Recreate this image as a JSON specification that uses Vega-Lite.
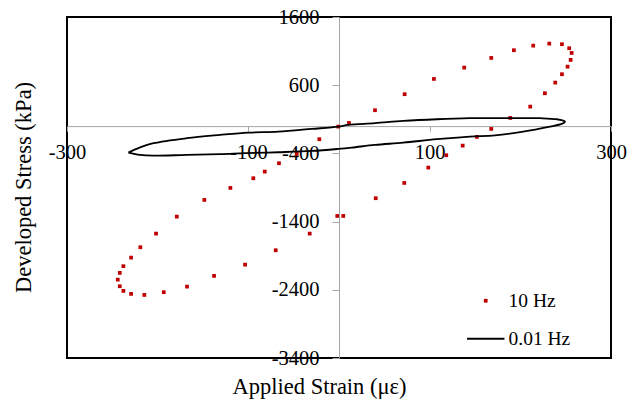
{
  "$schema": "https://vega.github.io/schema/vega-lite/v6.json",
  "width": 544,
  "height": 341,
  "autosize": {"type": "none"},
  "padding": {"left": 67, "top": 17, "right": 24, "bottom": 41},
  "background": "white",
  "config": {
    "font": "Liberation Serif",
    "view": {"stroke": "black", "strokeWidth": 2},
    "axis": {"grid": false, "labelFont": "Liberation Serif", "titleFont": "Liberation Serif", "labelColor": "black", "titleColor": "black", "titleFontWeight": "normal", "domainColor": "#a6a6a6", "tickColor": "#a6a6a6"},
    "legend": {"labelFont": "Liberation Serif", "labelColor": "black"}
  },
  "datasets": {
    "pts": [
      {"series": "10 Hz", "x": -241.8, "y": -2152},
      {"series": "10 Hz", "x": -237.8, "y": -2054},
      {"series": "10 Hz", "x": -229.3, "y": -1928},
      {"series": "10 Hz", "x": -219.1, "y": -1776},
      {"series": "10 Hz", "x": -201.8, "y": -1576},
      {"series": "10 Hz", "x": -178.9, "y": -1327},
      {"series": "10 Hz", "x": -148.5, "y": -1082},
      {"series": "10 Hz", "x": -119.8, "y": -906},
      {"series": "10 Hz", "x": -94.5, "y": -764},
      {"series": "10 Hz", "x": -81.9, "y": -667},
      {"series": "10 Hz", "x": -66.2, "y": -544},
      {"series": "10 Hz", "x": -46.6, "y": -408},
      {"series": "10 Hz", "x": -21.7, "y": -192},
      {"series": "10 Hz", "x": -0.8, "y": -7},
      {"series": "10 Hz", "x": 11.0, "y": 47},
      {"series": "10 Hz", "x": 39.7, "y": 233},
      {"series": "10 Hz", "x": 72.4, "y": 468},
      {"series": "10 Hz", "x": 104.7, "y": 692},
      {"series": "10 Hz", "x": 138.1, "y": 858},
      {"series": "10 Hz", "x": 167.9, "y": 1000},
      {"series": "10 Hz", "x": 192.9, "y": 1113},
      {"series": "10 Hz", "x": 214.2, "y": 1180},
      {"series": "10 Hz", "x": 231.9, "y": 1210},
      {"series": "10 Hz", "x": 245.9, "y": 1201},
      {"series": "10 Hz", "x": 253.9, "y": 1142},
      {"series": "10 Hz", "x": 256.6, "y": 1073},
      {"series": "10 Hz", "x": 255.5, "y": 971},
      {"series": "10 Hz", "x": 252.1, "y": 872},
      {"series": "10 Hz", "x": 245.9, "y": 761},
      {"series": "10 Hz", "x": 238.5, "y": 638},
      {"series": "10 Hz", "x": 227.1, "y": 482},
      {"series": "10 Hz", "x": 210.9, "y": 286},
      {"series": "10 Hz", "x": 188.9, "y": 120},
      {"series": "10 Hz", "x": 167.9, "y": -41},
      {"series": "10 Hz", "x": 152.1, "y": -158},
      {"series": "10 Hz", "x": 136.4, "y": -286},
      {"series": "10 Hz", "x": 118.3, "y": -427},
      {"series": "10 Hz", "x": 98.5, "y": -608},
      {"series": "10 Hz", "x": 72.0, "y": -833},
      {"series": "10 Hz", "x": 40.5, "y": -1057},
      {"series": "10 Hz", "x": 4.7, "y": -1317},
      {"series": "10 Hz", "x": -1.9, "y": -1317},
      {"series": "10 Hz", "x": -32.3, "y": -1576},
      {"series": "10 Hz", "x": -69.8, "y": -1820},
      {"series": "10 Hz", "x": -103.6, "y": -2031},
      {"series": "10 Hz", "x": -137.8, "y": -2196},
      {"series": "10 Hz", "x": -167.6, "y": -2353},
      {"series": "10 Hz", "x": -193.3, "y": -2435},
      {"series": "10 Hz", "x": -214.7, "y": -2475},
      {"series": "10 Hz", "x": -229.3, "y": -2460},
      {"series": "10 Hz", "x": -237.8, "y": -2416},
      {"series": "10 Hz", "x": -241.8, "y": -2348},
      {"series": "10 Hz", "x": -244.0, "y": -2251}
    ],
    "loop": [
      {"series": "0.01 Hz", "order": 1, "x": -232.3, "y": -389},
      {"series": "0.01 Hz", "order": 2, "x": -219.4, "y": -312},
      {"series": "0.01 Hz", "order": 3, "x": -204.7, "y": -251},
      {"series": "0.01 Hz", "order": 4, "x": -167.9, "y": -177},
      {"series": "0.01 Hz", "order": 5, "x": -131.2, "y": -129},
      {"series": "0.01 Hz", "order": 6, "x": -100.0, "y": -95},
      {"series": "0.01 Hz", "order": 7, "x": -66.9, "y": -81},
      {"series": "0.01 Hz", "order": 8, "x": -30.0, "y": -41},
      {"series": "0.01 Hz", "order": 9, "x": -0.8, "y": -7},
      {"series": "0.01 Hz", "order": 10, "x": 10.3, "y": 18},
      {"series": "0.01 Hz", "order": 11, "x": 39.7, "y": 43},
      {"series": "0.01 Hz", "order": 12, "x": 70.9, "y": 76},
      {"series": "0.01 Hz", "order": 13, "x": 107.7, "y": 101},
      {"series": "0.01 Hz", "order": 14, "x": 144.4, "y": 116},
      {"series": "0.01 Hz", "order": 15, "x": 188.5, "y": 116},
      {"series": "0.01 Hz", "order": 16, "x": 221.6, "y": 116},
      {"series": "0.01 Hz", "order": 17, "x": 240.0, "y": 101},
      {"series": "0.01 Hz", "order": 18, "x": 249.2, "y": 66},
      {"series": "0.01 Hz", "order": 19, "x": 245.5, "y": 32},
      {"series": "0.01 Hz", "order": 20, "x": 232.6, "y": -7},
      {"series": "0.01 Hz", "order": 21, "x": 203.2, "y": -81},
      {"series": "0.01 Hz", "order": 22, "x": 172.0, "y": -136},
      {"series": "0.01 Hz", "order": 23, "x": 144.4, "y": -154},
      {"series": "0.01 Hz", "order": 24, "x": 107.7, "y": -192},
      {"series": "0.01 Hz", "order": 25, "x": 70.9, "y": -242},
      {"series": "0.01 Hz", "order": 26, "x": 39.7, "y": -276},
      {"series": "0.01 Hz", "order": 27, "x": 14.0, "y": -315},
      {"series": "0.01 Hz", "order": 28, "x": -0.8, "y": -334},
      {"series": "0.01 Hz", "order": 29, "x": -30.0, "y": -364},
      {"series": "0.01 Hz", "order": 30, "x": -66.9, "y": -383},
      {"series": "0.01 Hz", "order": 31, "x": -103.6, "y": -397},
      {"series": "0.01 Hz", "order": 32, "x": -131.2, "y": -412},
      {"series": "0.01 Hz", "order": 33, "x": -167.9, "y": -422},
      {"series": "0.01 Hz", "order": 34, "x": -204.7, "y": -433},
      {"series": "0.01 Hz", "order": 35, "x": -219.4, "y": -422},
      {"series": "0.01 Hz", "order": 36, "x": -232.3, "y": -389}
    ]
  },
  "encoding": {
    "x": {
      "field": "x", "type": "quantitative",
      "scale": {"domain": [-300, 300], "nice": false, "zero": false},
      "axis": {
        "orient": "bottom", "offset": -231.9,
        "values": [-300, -100, 100, 300],
        "labelExpr": "'' + datum.value",
        "tickSize": 5, "labelPadding": 11, "labelFontSize": 20.5,
        "labelOverlap": false, "labelFlush": false,
        "title": "Applied Strain (με)", "titleFontSize": 22.5,
        "titleX": 252, "titleY": 267, "titleBaseline": "alphabetic", "titleAnchor": "middle"
      }
    },
    "y": {
      "field": "y", "type": "quantitative",
      "scale": {"domain": [-3400, 1600], "nice": false, "zero": false},
      "axis": {
        "orient": "left", "offset": -272,
        "values": [1600, 600, -400, -1400, -2400, -3400],
        "labelExpr": "'' + datum.value",
        "tickSize": 7, "labelPadding": 13, "labelFontSize": 20.5,
        "labelOverlap": false, "labelFlush": false,
        "title": "Developed Stress (kPa)", "titleFontSize": 22.5,
        "titleX": -309, "titleY": 170, "titleAngle": -90, "titleBaseline": "alphabetic", "titleAlign": "center"
      }
    },
    "color": {
      "field": "series", "type": "nominal",
      "scale": {"domain": ["10 Hz", "0.01 Hz"], "range": ["#c00000", "black"]},
      "legend": {
        "title": null, "orient": "none", "legendX": 409, "legendY": 274,
        "symbolSize": 1400, "labelFontSize": 19.5, "labelOffset": 13, "rowPadding": 17,
        "symbolStrokeWidth": 1.8,
        "encode": {
          "symbols": {
            "update": {
              "size": {"signal": "datum.value === '0.01 Hz' ? 1400 : 14"},
              "stroke": {"signal": "datum.value === '0.01 Hz' ? 'black' : '#c00000'"},
              "fill": {"signal": "datum.value === '0.01 Hz' ? 'transparent' : '#c00000'"},
              "strokeWidth": {"signal": "datum.value === '0.01 Hz' ? 1.8 : 0"}
            }
          }
        }
      }
    },
    "shape": {
      "field": "series", "type": "nominal",
      "scale": {"domain": ["10 Hz", "0.01 Hz"], "range": ["square", "stroke"]},
      "legend": null
    }
  },
  "layer": [
    {
      "data": {"name": "pts"},
      "mark": {"type": "point", "filled": true, "size": 14, "opacity": 1}
    },
    {
      "data": {"name": "loop"},
      "mark": {"type": "line", "strokeWidth": 1.8, "interpolate": "catmull-rom"},
      "encoding": {"order": {"field": "order", "type": "quantitative"}, "shape": null}
    }
  ]
}
